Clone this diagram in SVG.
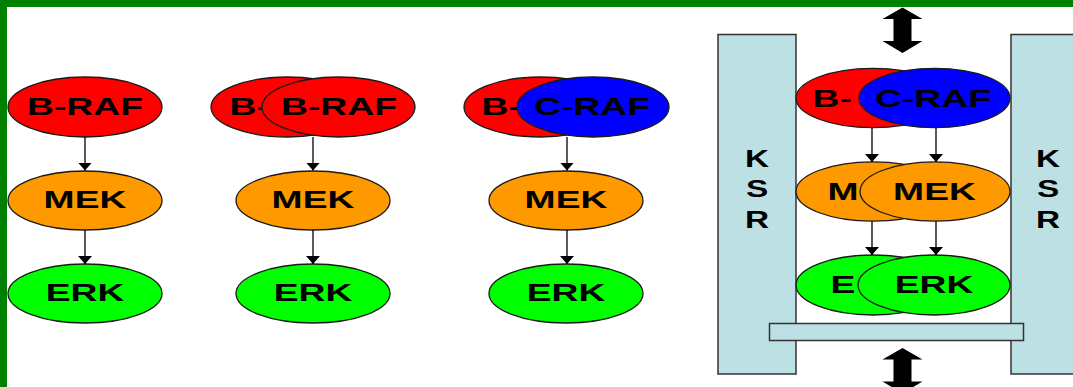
<svg xmlns="http://www.w3.org/2000/svg" width="1073" height="387" viewBox="0 0 1073 387">
<style>
  .n { stroke:#1a1a1a; stroke-width:1.3; }
  .raf { fill:#FF0000; }
  .craf { fill:#0000FF; }
  .mek { fill:#FF9900; }
  .erk { fill:#00FF00; }
  .ksr { fill:#BCE0E3; stroke:#333; stroke-width:1.5; }
  .t { font-family:"Liberation Sans", Arial, sans-serif; font-weight:bold; font-size:23px; fill:#000; }
  .c { text-anchor:middle; }
  .edge { stroke:#000; stroke-width:1.3; fill:none; marker-end:url(#ah); }
</style>
<defs>
  <marker id="ah" markerUnits="userSpaceOnUse" viewBox="0 -7 8 14" markerWidth="8" markerHeight="14" refX="8" refY="0" orient="auto">
    <path d="M0,-7 L8,0 L0,7 z" fill="#000"/>
  </marker>
  <path id="dbl" d="M0,0 L20,11.5 L9,11.5 L9,33.5 L20,33.5 L0,45.5 L-20,33.5 L-9,33.5 L-9,11.5 L-20,11.5 z" fill="#000"/>
</defs>
<rect x="0" y="0" width="1073" height="387" fill="#fff"/>
<rect x="0" y="0" width="1073" height="7" fill="#008000"/>
<rect x="0" y="0" width="7" height="387" fill="#008000"/>

<!-- Column 1 -->
<g id="c1-braf"><ellipse class="n raf" cx="85" cy="107" rx="77" ry="30"/><text class="t c" transform="translate(85,115) scale(1.62,1)">B-RAF</text></g>
<g id="c1-mek"><ellipse class="n mek" cx="85" cy="200.5" rx="77" ry="29.5"/><text class="t c" transform="translate(85,208) scale(1.62,1)">MEK</text></g>
<g id="c1-erk"><ellipse class="n erk" cx="85" cy="293.5" rx="77" ry="29.5"/><text class="t c" transform="translate(85,301) scale(1.62,1)">ERK</text></g>

<!-- Column 2 -->
<g id="c2-braf-back"><ellipse class="n raf" cx="287.5" cy="107" rx="76.5" ry="30"/><text class="t" transform="translate(229.5,115) scale(1.62,1)">B-</text></g>
<g id="c2-braf"><ellipse class="n raf" cx="338.5" cy="107" rx="76.5" ry="30"/><text class="t c" transform="translate(339,115) scale(1.62,1)">B-RAF</text></g>
<g id="c2-mek"><ellipse class="n mek" cx="313" cy="200.5" rx="77" ry="29.5"/><text class="t c" transform="translate(313,208) scale(1.62,1)">MEK</text></g>
<g id="c2-erk"><ellipse class="n erk" cx="313" cy="293.5" rx="77" ry="29.5"/><text class="t c" transform="translate(313,301) scale(1.62,1)">ERK</text></g>

<!-- Column 3 -->
<g id="c3-braf"><ellipse class="n raf" cx="540.5" cy="107" rx="76.5" ry="30"/><text class="t" transform="translate(481.5,115) scale(1.62,1)">B-</text></g>
<g id="c3-craf"><ellipse class="n craf" cx="593" cy="107" rx="76" ry="30"/><text class="t c" transform="translate(592,115) scale(1.62,1)">C-RAF</text></g>
<g id="c3-mek"><ellipse class="n mek" cx="566" cy="200.5" rx="77" ry="29.5"/><text class="t c" transform="translate(566,208) scale(1.62,1)">MEK</text></g>
<g id="c3-erk"><ellipse class="n erk" cx="566" cy="293.5" rx="77" ry="29.5"/><text class="t c" transform="translate(566,301) scale(1.62,1)">ERK</text></g>

<!-- Panel 4: scaffold -->
<g id="ksr-left"><rect class="ksr" x="718" y="34.5" width="78" height="339.5"/>
  <text class="t c" transform="translate(757,167) scale(1.45,1)">K</text>
  <text class="t c" transform="translate(757,197) scale(1.45,1)">S</text>
  <text class="t c" transform="translate(757,228) scale(1.45,1)">R</text></g>
<g id="ksr-right"><rect class="ksr" x="1011" y="34.5" width="70" height="339.5"/>
  <text class="t c" transform="translate(1048,167) scale(1.45,1)">K</text>
  <text class="t c" transform="translate(1048,197) scale(1.45,1)">S</text>
  <text class="t c" transform="translate(1048,228) scale(1.45,1)">R</text></g>
<g id="ksr-bar"><rect class="ksr" x="769.5" y="323.5" width="254" height="17"/></g>
<g id="arrow-top"><use href="#dbl" x="902.5" y="7.5"/></g>
<g id="arrow-bottom"><use href="#dbl" x="902.5" y="348"/></g>

<g id="p-braf"><ellipse class="n raf" cx="873" cy="98" rx="77" ry="29.7"/><text class="t" transform="translate(812.5,106.5) scale(1.62,1)">B-</text></g>
<g id="p-craf"><ellipse class="n craf" cx="934.5" cy="98" rx="75.5" ry="29.7"/><text class="t c" transform="translate(933,106.5) scale(1.62,1)">C-RAF</text></g>
<g id="p-mek-back"><ellipse class="n mek" cx="873" cy="191.5" rx="77" ry="29.7"/><text class="t" transform="translate(827.5,200) scale(1.62,1)">M</text></g>
<g id="p-mek"><ellipse class="n mek" cx="935" cy="191.5" rx="75" ry="29.7"/><text class="t c" transform="translate(934.5,200) scale(1.62,1)">MEK</text></g>
<g id="p-erk-back"><ellipse class="n erk" cx="873" cy="285" rx="77" ry="30"/><text class="t" transform="translate(830.5,292.7) scale(1.62,1)">E</text></g>
<g id="p-erk"><ellipse class="n erk" cx="934" cy="285" rx="76" ry="30"/><text class="t c" transform="translate(934,292.7) scale(1.62,1)">ERK</text></g>

<g id="connectors">
  <line class="edge" x1="85" y1="137" x2="85" y2="170.5"/>
  <line class="edge" x1="85" y1="230" x2="85" y2="264"/>
  <line class="edge" x1="313" y1="137" x2="313" y2="170.5"/>
  <line class="edge" x1="313" y1="230" x2="313" y2="264"/>
  <line class="edge" x1="567" y1="137" x2="567" y2="170.5"/>
  <line class="edge" x1="567" y1="230" x2="567" y2="264"/>
  <line class="edge" x1="872" y1="127.7" x2="872" y2="162"/>
  <line class="edge" x1="936" y1="127.7" x2="936" y2="162"/>
  <line class="edge" x1="872" y1="221.2" x2="872" y2="255"/>
  <line class="edge" x1="936" y1="221.2" x2="936" y2="255"/>
</g>
</svg>
